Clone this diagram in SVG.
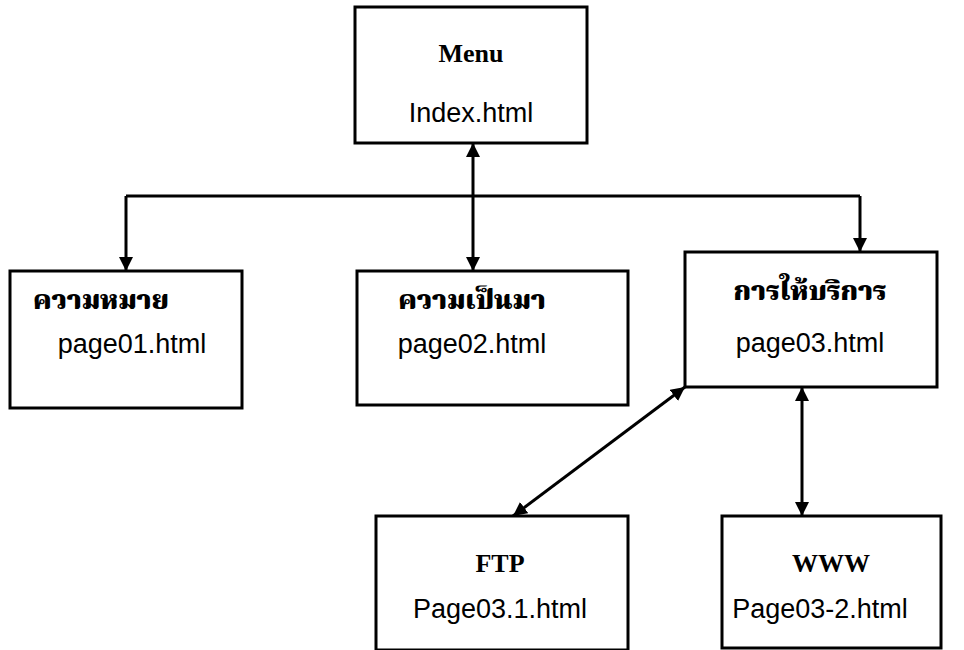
<svg xmlns="http://www.w3.org/2000/svg" width="964" height="650" viewBox="0 0 964 650">
<defs>
<marker id="ah" viewBox="0 0 10 10" refX="10" refY="5" markerWidth="14" markerHeight="14" markerUnits="userSpaceOnUse" orient="auto-start-reverse">
<path d="M0,0 L10,5 L0,10 z" fill="#000"/>
</marker>
<style>
.box{fill:#fff;stroke:#000;stroke-width:3}
.t{font-family:"Liberation Serif","Times New Roman",serif;font-weight:bold;font-size:26px;fill:#000;text-anchor:middle}
.th{font-family:"Noto Serif Thai","Noto Sans Thai Looped","Loma","Garuda","Norasi","Noto Sans Thai","Noto Sans",sans-serif;font-weight:900;font-size:27px;fill:#000}
.f{font-family:"Liberation Sans",Arial,sans-serif;font-size:27px;fill:#000;text-anchor:middle}
.c{fill:none;stroke:#000;stroke-width:3}
</style>
</defs>
<rect width="964" height="650" fill="#fff"/>
<g id="connectors">
<line class="c" x1="126" y1="196" x2="860" y2="196"/>
<line class="c" x1="126" y1="196" x2="126" y2="271" marker-end="url(#ah)"/>
<line class="c" x1="473" y1="143" x2="473" y2="271" marker-start="url(#ah)" marker-end="url(#ah)"/>
<line class="c" x1="860" y1="196" x2="860" y2="252" marker-end="url(#ah)"/>
<line class="c" x1="685" y1="387" x2="513" y2="516" marker-start="url(#ah)" marker-end="url(#ah)"/>
<line class="c" x1="802" y1="387" x2="802" y2="516" marker-start="url(#ah)" marker-end="url(#ah)"/>
</g>
<g id="menu">
<rect class="box" x="355" y="7" width="232" height="136"/>
<text class="t" x="471" y="62">Menu</text>
<text class="f" x="471" y="122">Index.html</text>
</g>
<g id="page01">
<rect class="box" x="10" y="271" width="232" height="137"/>
<text class="th" x="33" y="309">ความหมาย</text>
<text class="f" x="132" y="353">page01.html</text>
</g>
<g id="page02">
<rect class="box" x="357" y="271" width="271" height="134"/>
<text class="th" x="472" y="309" text-anchor="middle">ความเป็นมา</text>
<text class="f" x="472" y="353">page02.html</text>
</g>
<g id="page03">
<rect class="box" x="685" y="252" width="252" height="135"/>
<text class="th" x="810" y="300" text-anchor="middle">การให้บริการ</text>
<text class="f" x="810" y="352">page03.html</text>
</g>
<g id="ftp">
<rect class="box" x="376" y="516" width="252" height="134"/>
<text class="t" x="500" y="572">FTP</text>
<text class="f" x="500" y="618">Page03.1.html</text>
</g>
<g id="www">
<rect class="box" x="722" y="516" width="219" height="132"/>
<text class="t" x="831" y="572">WWW</text>
<text class="f" x="820" y="618">Page03-2.html</text>
</g>
</svg>
